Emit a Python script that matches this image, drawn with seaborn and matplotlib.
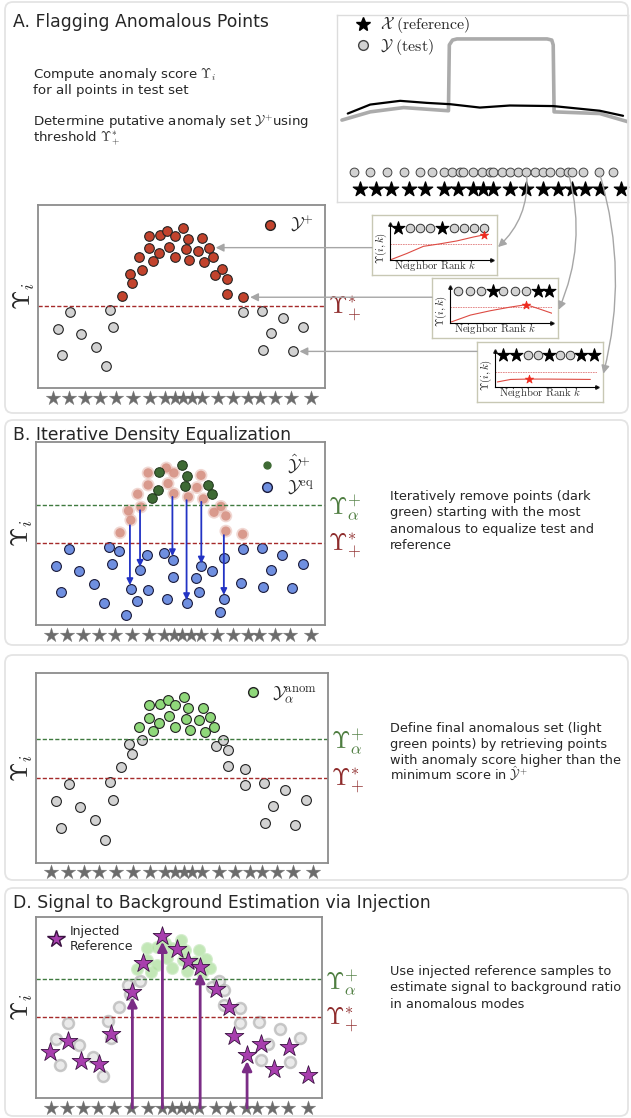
import numpy as np
import pandas as pd
import matplotlib.pyplot as plt
import seaborn as sns
import matplotlib.transforms as mtransforms
from matplotlib.lines import Line2D
from matplotlib.patches import FancyBboxPatch, ConnectionPatch

sns.set_theme(style='white')
plt.rcParams['font.family'] = ['DejaVu Sans']
plt.rcParams['mathtext.fontset'] = 'cm'

W, H = 631, 1118

# ---- data ----
# test set: anomalous bump + background points (x = feature, y = anomaly score)
hump_x = [2.91, 3.20, 3.28, 3.52, 3.63, 3.88, 3.88, 4.02, 4.22, 4.24, 4.51, 4.57, 4.77, 4.77,
          5.06, 5.14, 5.21, 5.27, 5.57, 5.71, 5.79, 5.95, 6.10, 6.16, 6.40, 6.57, 6.57, 7.15]
hump_y = [5.04, 6.24, 5.73, 7.15, 6.45, 8.31, 7.65, 6.95, 7.36, 8.36, 8.58, 7.73, 8.31, 7.18,
          8.73, 7.60, 8.16, 7.00, 7.51, 8.18, 6.89, 7.67, 7.18, 6.16, 6.48, 5.96, 5.13, 4.96]
low_x = [0.70, 0.85, 1.13, 1.50, 2.01, 2.36, 2.52, 2.62, 7.15, 7.81, 7.85, 8.12, 8.52, 8.87, 9.24]
low_y = [3.24, 1.82, 4.15, 2.93, 2.25, 1.22, 4.25, 3.31, 4.13, 4.22, 2.09, 3.00, 3.82, 2.00, 3.31]
# reference samples along the feature axis
ref_x = [0.52, 1.08, 1.63, 2.17, 2.73, 3.31, 3.90, 4.42, 4.77, 5.06, 5.35, 5.70, 6.28, 6.80,
         7.33, 7.73, 8.26, 8.80, 9.50]
thr_star = 4.5
thr_alpha = 6.55
removed_idx = [7, 8, 9, 14, 15, 16, 21, 22]

# panel B: equalized test set, extra points + moves
eq_x = [2.87, 3.11, 3.28, 3.48, 3.60, 3.83, 3.86, 4.44, 4.52, 4.73, 4.73, 5.21, 5.54, 5.64,
        5.70, 6.10, 6.37, 6.52, 6.51, 7.08]
eq_y = [4.04, 0.55, 1.96, 1.33, 2.98, 3.82, 1.91, 3.95, 1.42, 3.55, 2.64, 1.18, 2.55, 1.82,
        3.22, 2.96, 0.73, 3.64, 1.42, 2.27]
move_x = [3.25, 3.60, 4.72, 5.21, 5.72, 6.50]
move_from = [5.45, 6.27, 7.00, 6.82, 6.73, 4.91]
move_to = [2.18, 3.18, 3.76, 1.36, 3.36, 1.64]

# panel D: injected reference samples
inj_x = [0.49, 1.11, 1.56, 2.22, 2.61, 3.37, 3.73, 4.42, 4.92, 5.33, 5.74, 6.29, 6.75, 6.93,
         7.38, 7.88, 8.33, 8.86, 9.50]
inj_y = [2.53, 3.17, 2.02, 1.89, 3.52, 5.87, 7.48, 8.94, 8.22, 7.56, 7.21, 6.02, 5.01, 3.45,
         2.35, 2.99, 1.61, 2.81, 1.28]
lifted_idx = [5, 7, 10, 14]

# density sketch (top right)
den_ref_x = [0.37, 1.14, 2.17, 3.09, 3.89, 4.91, 5.94, 7.43, 9.03, 9.83]
den_ref_y = [4.73, 5.21, 5.41, 5.30, 5.23, 5.05, 5.16, 5.13, 4.88, 4.61]
den_test_x = [0.17, 1.14, 2.29, 3.83, 3.86, 3.97, 4.12, 7.22, 7.38, 7.43, 7.46, 9.03, 10.0]
den_test_y = [4.38, 4.82, 5.05, 4.88, 8.40, 8.66, 8.72, 8.72, 8.66, 8.40, 4.82, 4.73, 4.29]
den_pts_x = [0.59, 1.14, 1.71, 2.31, 2.86, 3.26, 3.66, 3.94, 4.23, 4.34, 4.69, 4.97, 5.26, 5.37,
             5.66, 5.94, 6.23, 6.51, 6.80, 7.09, 7.31, 7.66, 7.94, 8.06, 8.46, 9.01, 9.49]
den_refpts_x = [0.78, 1.34, 1.85, 2.46, 3.03, 3.66, 4.17, 4.69, 5.03, 5.37, 5.94, 6.51, 7.09,
                7.60, 8.06, 8.51, 9.03, 9.77]
conn_idx = [17, 22, 25]

# neighbor-rank insets
inset1_rank = [0.0, 1.64, 3.28, 4.92, 6.56, 8.20, 9.25]
inset1_score = [0.0, 0.18, 0.38, 0.45, 0.53, 0.64, 0.70]
inset1_row_x = [0.82, 1.97, 2.95, 3.93, 5.08, 6.23, 7.21, 8.20, 9.25]
inset1_row = ['ref', 'test', 'test', 'test', 'ref', 'test', 'test', 'test', 'test']

inset2_rank = [0.13, 2.0, 3.94, 5.87, 7.48, 8.77, 10.0]
inset2_score = [0.03, 0.22, 0.34, 0.44, 0.51, 0.39, 0.27]
inset2_row_x = [0.81, 1.94, 3.06, 4.19, 5.23, 6.35, 7.48, 8.61, 9.74]
inset2_row = ['test', 'test', 'test', 'ref', 'test', 'test', 'test', 'ref', 'ref']

inset3_rank = [0.23, 1.53, 3.32, 5.11, 9.35]
inset3_score = [0.14, 0.21, 0.22, 0.22, 0.21]
inset3_row_x = [0.81, 2.02, 3.22, 4.23, 5.28, 6.35, 7.33, 8.44, 9.67]
inset3_row = ['ref', 'ref', 'test', 'test', 'ref', 'test', 'test', 'ref', 'ref']

inset_cut = [0.45, 0.45, 0.43]
inset_best = [6, 4, 2]

# colours
GRAY = '#d2d2d2'
RED = '#c2432d'
DKGREEN = '#3e6a34'
LTGREEN = '#8fd87a'
BLUE = '#6f8fe0'
PURPLE = '#a83fae'
THR_RED = '#a52a2a'
THR_GREEN = '#3f7a3f'
LBL_RED = '#8e2b2b'
LBL_GREEN = '#4e7d40'

BODY = 9.6
SIDE = 9.3
TITLE = 12.4


def px_rect(x0, y0, x1, y1):
    return [x0 / W, 1 - y1 / H, (x1 - x0) / W, (y1 - y0) / H]


def fig_text(x, y, s, **kw):
    fig.text(x / W, 1 - y / H, s, **kw)


def frame(ax):
    ax.set_xlim(0, 10)
    ax.set_ylim(0, 10)
    ax.set_xticks([])
    ax.set_yticks([])
    for sp in ax.spines.values():
        sp.set_color('#8c8c8c')
        sp.set_linewidth(1.3)
    ax.set_ylabel(r'$\mathbf{\Upsilon}_i$', fontsize=18, labelpad=1)


def dots(ax, x, y, **kw):
    sns.scatterplot(x=x, y=y, ax=ax, legend=False, **kw)


def ref_row(ax, ypos=-0.55):
    dots(ax, ref_x, [ypos] * len(ref_x), marker='*', s=120, color='#5c5c5c',
         edgecolor='#7a7a7a', linewidth=0.3, clip_on=False, alpha=0.9)


def thresholds(ax, green=True):
    ax.axhline(thr_star, color=THR_RED, ls=(0, (3, 1.5)), lw=1)
    trans = mtransforms.blended_transform_factory(ax.transAxes, ax.transData)
    ax.text(1.01, thr_star - 0.2, r'$\mathbf{\Upsilon}_{+}^{*}$', color=LBL_RED, fontsize=17,
            transform=trans, va='center', ha='left')
    if green:
        ax.axhline(thr_alpha, color=THR_GREEN, ls=(0, (3, 1.5)), lw=1)
        ax.text(1.01, thr_alpha - 0.2, r'$\mathbf{\Upsilon}_{\alpha}^{+}$', color=LBL_GREEN,
                fontsize=17, transform=trans, va='center', ha='left')


fig = plt.figure(figsize=(W / 100, H / 100), dpi=100)
fig.patch.set_facecolor('white')

# panel outlines
for (x0, y0, x1, y1) in [(5, 2, 628, 413), (5, 420, 628, 645), (5, 655, 628, 880), (5, 888, 628, 1116)]:
    fig.add_artist(FancyBboxPatch((x0 / 100, (H - y1) / 100), (x1 - x0) / 100, (y1 - y0) / 100,
                                  boxstyle='round,pad=0,rounding_size=0.08',
                                  transform=fig.dpi_scale_trans, fc='none', ec='#e4e4e4', lw=1.3))

# ---------------- A ----------------
fig_text(13, 27, 'A. Flagging Anomalous Points', fontsize=TITLE, va='baseline')
fig_text(33, 78, r'Compute anomaly score $\mathbf{\Upsilon}_i$', fontsize=BODY, va='baseline')
fig_text(33, 94, 'for all points in test set', fontsize=BODY, va='baseline')
fig_text(33, 126, r'Determine putative anomaly set $\mathcal{Y}^{+}$using', fontsize=BODY, va='baseline')
fig_text(33, 142, r'threshold $\mathbf{\Upsilon}_{+}^{*}$', fontsize=BODY, va='baseline')

# density sketch
axDen = fig.add_axes(px_rect(337, 15, 628, 202))
axDen.set_xlim(0, 10)
axDen.set_ylim(0, 10)
axDen.set_xticks([])
axDen.set_yticks([])
for sp in axDen.spines.values():
    sp.set_color('#dcdcdc')
    sp.set_linewidth(1)
sns.lineplot(x=den_test_x, y=den_test_y, ax=axDen, sort=False, estimator=None,
             color='#ababab', lw=2.6)
sns.lineplot(x=den_ref_x, y=den_ref_y, ax=axDen, sort=False, estimator=None,
             color='black', lw=1.6)
dots(axDen, den_pts_x, [1.61] * len(den_pts_x), s=40, color=GRAY, edgecolor='#444444', linewidth=0.7)
dots(axDen, den_refpts_x, [0.71] * len(den_refpts_x), marker='*', s=120, color='black',
     edgecolor='black', clip_on=False)
axDen.set_ylabel('Density', fontsize=11.5, fontweight='bold', labelpad=3)
axDen.legend(handles=[Line2D([], [], marker='*', color='black', ls='', markersize=10),
                      Line2D([], [], marker='o', mfc=GRAY, mec='#444444', ls='', markersize=7)],
             labels=[r'$\mathcal{X}\ \mathrm{(reference)}$', r'$\mathcal{Y}\ \mathrm{(test)}$'],
             loc='upper left', bbox_to_anchor=(0.0, 1.05), frameon=False, fontsize=11.5,
             handletextpad=0.1, labelspacing=0.1, borderaxespad=0.2)

# scatter A
axA = fig.add_axes(px_rect(38, 205, 325, 388))
frame(axA)
dots(axA, low_x, low_y, s=48, color=GRAY, edgecolor='#222222', linewidth=0.8)
dots(axA, hump_x, hump_y, s=48, color=RED, edgecolor='#222222', linewidth=0.8)
ref_row(axA)
thresholds(axA, green=False)
axA.legend(handles=[Line2D([], [], marker='o', mfc=RED, mec='#222222', ls='', markersize=7)],
           labels=[r'$\mathcal{Y}^{+}$'], loc='upper right', frameon=False, fontsize=13,
           handletextpad=0.1, borderaxespad=0.2)

# insets
inset_boxes = [(372, 215, 497, 275), (432, 278, 558, 338), (477, 342, 603, 402)]
inset_data = [(inset1_rank, inset1_score, inset1_row_x, inset1_row),
              (inset2_rank, inset2_score, inset2_row_x, inset2_row),
              (inset3_rank, inset3_score, inset3_row_x, inset3_row)]
targets = [(hump_x[21], hump_y[21]), (hump_x[27], hump_y[27]), (low_x[13], low_y[13])]
rads = [-0.25, -0.18, -0.14]

for i, (box, (rk, sc, rx, rw)) in enumerate(zip(inset_boxes, inset_data)):
    x0, y0, x1, y1 = box
    outer = fig.add_axes(px_rect(*box))
    outer.set_xticks([])
    outer.set_yticks([])
    outer.patch.set_facecolor('white')
    for sp in outer.spines.values():
        sp.set_color('#c8c8b4')
        sp.set_linewidth(1)
    inner = fig.add_axes(px_rect(x0 + 18, y0 + 9, x0 + 120, y0 + 45))
    inner.patch.set_alpha(0)
    inner.set_xlim(0, 10)
    inner.set_ylim(0, 1)
    inner.set_xticks([])
    inner.set_yticks([])
    for side in ['top', 'right']:
        inner.spines[side].set_visible(False)
    for side in ['left', 'bottom']:
        inner.spines[side].set_color('black')
        inner.spines[side].set_linewidth(0.8)
    inner.plot(1, 0, '>k', transform=inner.transAxes, clip_on=False, markersize=2.5)
    inner.plot(0, 1, '^k', transform=inner.transAxes, clip_on=False, markersize=2.5)
    inner.axhline(inset_cut[i], color='#e07a7a', lw=0.6, ls=(0, (2, 1)))
    sns.lineplot(x=rk, y=sc, ax=inner, sort=False, estimator=None, color='#dd4b43', lw=0.8)
    b = inset_best[i]
    dots(inner, [rk[b]], [sc[b]], marker='*', s=40, color='#ee2a1e', edgecolor='#ee2a1e', zorder=5)
    tx = [x for x, k in zip(rx, rw) if k == 'test']
    sx = [x for x, k in zip(rx, rw) if k == 'ref']
    dots(inner, tx, [0.9] * len(tx), s=38, color=GRAY, edgecolor='#333333', linewidth=0.7, clip_on=False)
    dots(inner, sx, [0.9] * len(sx), marker='*', s=95, color='black', edgecolor='black', clip_on=False)
    inner.set_xlabel('')
    inner.set_ylabel('')
    outer.text(0.5, 0.03, r'$\mathrm{Neighbor\ Rank}\ k$', fontsize=7.8, ha='center', va='bottom',
               transform=outer.transAxes, color='#333333', zorder=10)
    outer.text(0.075, 0.45, r'$\mathbf{\Upsilon}(i,k)$', fontsize=7.8, ha='center', va='center',
               rotation=90, transform=outer.transAxes, color='#222222', zorder=10)

    # from density point to inset
    con = ConnectionPatch(xyA=(den_pts_x[conn_idx[i]], 1.61), coordsA=axDen.transData,
                          xyB=(1.0, 0.45), coordsB=outer.transAxes,
                          arrowstyle='-|>', mutation_scale=12, color='#a6a6a6', lw=1,
                          connectionstyle=f'arc3,rad={rads[i]}', shrinkA=3, shrinkB=1)
    fig.add_artist(con)
    # from inset to flagged point
    tr = mtransforms.blended_transform_factory(outer.transAxes, axA.transData)
    con2 = ConnectionPatch(xyA=(0.0, targets[i][1]), coordsA=tr,
                           xyB=targets[i], coordsB=axA.transData,
                           arrowstyle='-|>', mutation_scale=12, color='#a6a6a6', lw=1,
                           shrinkA=0, shrinkB=5)
    fig.add_artist(con2)

# ---------------- B ----------------
fig_text(13, 440, 'B. Iterative Density Equalization', fontsize=TITLE, va='baseline')
axB = fig.add_axes(px_rect(36, 442, 325, 625))
frame(axB)
keep = [j for j in range(len(hump_x)) if j not in removed_idx]
dots(axB, [hump_x[j] for j in keep], [hump_y[j] for j in keep], s=85, color='#e3b0a6',
     edgecolor='none', alpha=0.5)
dots(axB, [hump_x[j] for j in keep], [hump_y[j] for j in keep], s=45, color='#d48b7c',
     edgecolor='none', alpha=0.8)
dots(axB, [hump_x[j] for j in removed_idx], [hump_y[j] for j in removed_idx], s=48,
     color=DKGREEN, edgecolor='#1d3318', linewidth=0.7)
dots(axB, low_x + eq_x, low_y + eq_y, s=50, color=BLUE, edgecolor='#1a1a3a', linewidth=0.8)
for mx, y0, y1 in zip(move_x, move_from, move_to):
    axB.annotate('', xy=(mx, y1), xytext=(mx, y0),
                 arrowprops=dict(arrowstyle='-|>', color='#2233c4', lw=1.3, mutation_scale=9,
                                 shrinkA=0, shrinkB=0))
ref_row(axB)
thresholds(axB)
axB.legend(handles=[Line2D([], [], marker='o', mfc=DKGREEN, mec=DKGREEN, ls='', markersize=5),
                    Line2D([], [], marker='o', mfc=BLUE, mec='#1a1a3a', ls='', markersize=7)],
           labels=[r'$\hat{\mathcal{Y}}^{+}$', r'$\mathcal{Y}^{\mathrm{eq}}$'],
           loc='upper right', frameon=False, fontsize=13, handletextpad=0.1,
           labelspacing=0.2, borderaxespad=0.2)
for j, line in enumerate(['Iteratively remove points (dark', 'green) starting with the most',
                          'anomalous to equalize test and', 'reference']):
    fig_text(390, 500 + 16.4 * j, line, fontsize=SIDE, va='baseline')

# ---------------- C ----------------
axC = fig.add_axes(px_rect(36, 673, 328, 863))
frame(axC)
hx = np.array(hump_x)
hy = np.array(hump_y)
top = hy > thr_alpha
dots(axC, low_x + list(hx[~top]), low_y + list(hy[~top]), s=50, color=GRAY,
     edgecolor='#222222', linewidth=0.8)
dots(axC, list(hx[top]), list(hy[top]), s=50, color=LTGREEN, edgecolor='#222222', linewidth=0.8)
ref_row(axC, -0.45)
thresholds(axC)
axC.legend(handles=[Line2D([], [], marker='o', mfc=LTGREEN, mec='#222222', ls='', markersize=7)],
           labels=[r'$\mathcal{Y}_{\alpha}^{\mathrm{anom}}$'], loc='upper right', frameon=False,
           fontsize=13, handletextpad=0.1, borderaxespad=0.2)
for j, line in enumerate(['Define final anomalous set (light', 'green points) by retrieving points',
                          'with anomaly score higher than the',
                          r'minimum score in $\hat{\mathcal{Y}}^{+}$']):
    fig_text(390, 732 + 16 * j, line, fontsize=SIDE, va='baseline')

# ---------------- D ----------------
fig_text(13, 908, 'D. Signal to Background Estimation via Injection', fontsize=TITLE, va='baseline')
axD = fig.add_axes(px_rect(36, 917, 322, 1098))
frame(axD)
dots(axD, low_x + list(hx[~top]), low_y + list(hy[~top]), s=62, color='#e2e2e2',
     edgecolor='#b3b3b3', linewidth=1.8, alpha=0.7)
dots(axD, list(hx[top]), list(hy[top]), s=62, color='#a8dd98', edgecolor='#c6e8bc',
     linewidth=1.5, alpha=0.7)
thresholds(axD)
ref_row(axD)
for j in lifted_idx:
    axD.annotate('', xy=(inj_x[j], inj_y[j]), xytext=(inj_x[j], -0.55),
                 arrowprops=dict(arrowstyle='-|>', color='#7b2d86', lw=2.0, mutation_scale=14,
                                 shrinkA=0, shrinkB=4), annotation_clip=False)
dots(axD, inj_x, inj_y, marker='*', s=200, color=PURPLE, edgecolor='#3b1242', linewidth=0.6, zorder=6)
axD.legend(handles=[Line2D([], [], marker='*', mfc=PURPLE, mec='#3b1242', ls='', markersize=13)],
           labels=['Injected\nReference'], loc='upper left', frameon=False, fontsize=9,
           handletextpad=0.1, borderaxespad=0.2)
for j, line in enumerate(['Use injected reference samples to', 'estimate signal to background ratio',
                          'in anomalous modes']):
    fig_text(390, 975 + 16.5 * j, line, fontsize=SIDE, va='baseline')

fig.savefig('out.png', dpi=100, facecolor='white')
